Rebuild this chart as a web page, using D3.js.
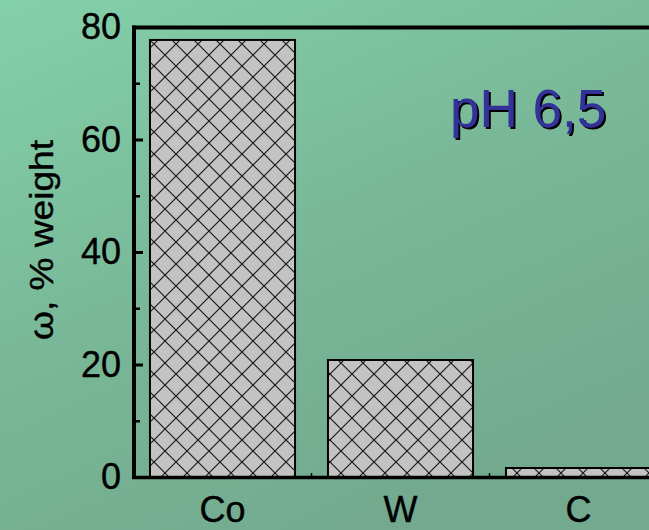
<!DOCTYPE html>
<html>
<head>
<meta charset="utf-8">
<script src="https://cdn.jsdelivr.net/npm/d3@7/dist/d3.min.js"></script>
<style>
  html, body { margin: 0; padding: 0; background: #78b898; }
  svg { display: block; }
  text { font-family: Arial, "Liberation Sans", Helvetica, sans-serif; }
</style>
</head>
<body>
<svg id="chart" width="649" height="530"></svg>
<script>
// Element composition of the deposit, weight percent
const categories = ["Co", "W", "C"];
const values = [77.7, 20.8, 1.6];
const yTicks = [0, 20, 40, 60, 80];
const yMinorTicks = [10, 30, 50, 70];
const yLabel = "ω, % weight";
const note = "pH 6,5";

const width = 649, height = 530;
const svg = d3.select("#chart");

// Background gradient
const defs = svg.append("defs");
const grad = defs.append("linearGradient")
  .attr("id", "bg").attr("x1", 0).attr("y1", 0).attr("x2", 0.55).attr("y2", 1);
grad.append("stop").attr("offset", "0%").attr("stop-color", "#84d0aa");
grad.append("stop").attr("offset", "55%").attr("stop-color", "#78b797");
grad.append("stop").attr("offset", "100%").attr("stop-color", "#73aa8f");
svg.append("rect").attr("width", width).attr("height", height).attr("fill", "url(#bg)");

// Cross-hatch fill for the bars
const pat = defs.append("pattern")
  .attr("id", "hatch").attr("patternUnits", "userSpaceOnUse")
  .attr("width", 22).attr("height", 22);
pat.append("rect").attr("width", 22).attr("height", 22).attr("fill", "#c3c3c3");
pat.append("path")
  .attr("d", "M0,0L22,22M-11,11L11,33M11,-11L33,11M22,0L0,22M-11,11L11,-11M11,33L33,11")
  .attr("stroke", "#1a1a1a").attr("stroke-width", 1.2).attr("fill", "none");

// Drop shadow for the annotation
const shadow = defs.append("filter").attr("id", "shadow")
  .attr("x", "-10%").attr("y", "-10%").attr("width", "130%").attr("height", "130%");
shadow.append("feDropShadow")
  .attr("dx", 2).attr("dy", 2).attr("stdDeviation", 0.4)
  .attr("flood-color", "#000").attr("flood-opacity", 1);

const y = d3.scaleLinear().domain([0, 80]).range([477, 27]);
const x = d3.scaleBand().domain(categories).range([133.5, 667.5])
  .paddingInner(0.185).paddingOuter(0.0925);

// Bars
svg.append("g").selectAll("rect")
  .data(categories.map((c, i) => ({ c, v: values[i] })))
  .join("rect")
  .attr("x", d => x(d.c))
  .attr("y", d => y(d.v))
  .attr("width", x.bandwidth())
  .attr("height", d => y(0) - y(d.v))
  .attr("fill", "url(#hatch)")
  .attr("stroke", "#000")
  .attr("stroke-width", 2);

// Frame: left axis, top border, baseline
svg.append("line").attr("x1", 134).attr("x2", 134).attr("y1", 25.5).attr("y2", 479)
  .attr("stroke", "#000").attr("stroke-width", 4);
svg.append("line").attr("x1", 132).attr("x2", width).attr("y1", 27.5).attr("y2", 27.5)
  .attr("stroke", "#000").attr("stroke-width", 4);
svg.append("line").attr("x1", 132).attr("x2", width).attr("y1", 477.5).attr("y2", 477.5)
  .attr("stroke", "#000").attr("stroke-width", 3.5);

// Y axis ticks (inward) and labels
const yAxis = d3.axisRight(y).tickValues(yTicks).tickSize(9).tickFormat("");
const gy = svg.append("g").attr("transform", "translate(134,0)").call(yAxis);
gy.select(".domain").remove();
gy.selectAll(".tick line").attr("stroke", "#000").attr("stroke-width", 3);
const yMinor = d3.axisRight(y).tickValues(yMinorTicks).tickSize(6).tickFormat("");
const gym = svg.append("g").attr("transform", "translate(134,0)").call(yMinor);
gym.select(".domain").remove();
gym.selectAll(".tick line").attr("stroke", "#000").attr("stroke-width", 2.5);

svg.append("g").selectAll("text")
  .data(yTicks).join("text")
  .attr("x", 121)
  .attr("y", d => y(d) + 12)
  .attr("text-anchor", "end")
  .attr("font-size", 36)
  .attr("fill", "#000")
  .attr("stroke", "#000").attr("stroke-width", 0.4)
  .text(d => d);

// Small ticks between categories on the baseline
const gaps = categories.slice(1).map((c, i) =>
  (x(categories[i]) + x.bandwidth() + x(c)) / 2);
svg.append("g").selectAll("line").data(gaps).join("line")
  .attr("x1", d => d).attr("x2", d => d)
  .attr("y1", 476).attr("y2", 473)
  .attr("stroke", "#000").attr("stroke-width", 1.5);

// Category labels
svg.append("g").selectAll("text")
  .data(categories).join("text")
  .attr("x", d => x(d) + x.bandwidth() / 2)
  .attr("y", 522)
  .attr("text-anchor", "middle")
  .attr("font-size", 36)
  .attr("fill", "#000")
  .attr("stroke", "#000").attr("stroke-width", 0.4)
  .text(d => d);

// Y axis title
svg.append("text")
  .attr("transform", "translate(53,240) rotate(-90)")
  .attr("text-anchor", "middle")
  .attr("font-size", 34)
  .attr("textLength", 200)
  .attr("lengthAdjust", "spacingAndGlyphs")
  .attr("fill", "#000")
  .attr("stroke", "#000").attr("stroke-width", 0.4)
  .text(yLabel);

// Annotation
svg.append("text")
  .attr("x", 450).attr("y", 127)
  .attr("font-size", 53).attr("fill", "#333399")
  .attr("filter", "url(#shadow)")
  .text(note);
</script>
</body>
</html>
